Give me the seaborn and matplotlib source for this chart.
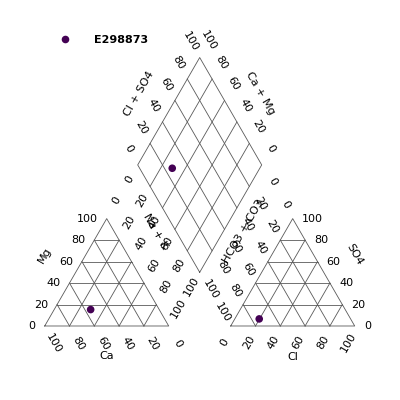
import numpy as np
import pandas as pd
import seaborn as sns
import matplotlib
matplotlib.use('Agg')
import matplotlib.pyplot as plt

# sample (meq %)
samples = ['E298873']
ca = [55.3]
mg = [15.3]
na_k = [29.4]
cl = [19.7]
so4 = [6.6]
hco3 = [73.7]

ticks = [0, 20, 40, 60, 80, 100]
tick_labels = ['0', '20', '40', '60', '80', '100']

offset = 0.5
h = np.sqrt(3) / 2
lc = '0.35'
lw = 0.6
fs = 8

# project the data onto the piper layout
cat_x = (np.array(na_k) + 0.5 * np.array(mg)) / 100
cat_y = h * np.array(mg) / 100
an_x = 1 + offset + (np.array(cl) + 0.5 * np.array(so4)) / 100
an_y = h * np.array(so4) / 100
t = (an_x - cat_x) + (an_y - cat_y) / (2 * h)
dia_x = cat_x + 0.5 * t
dia_y = cat_y + h * t

df = pd.DataFrame({
    'x': np.concatenate([cat_x, an_x, dia_x]),
    'y': np.concatenate([cat_y, an_y, dia_y]),
    'Sample': samples * 3,
})

fig = plt.figure(figsize=(4, 4), dpi=100)
ax = fig.add_axes([0, 0, 1, 1])
ax.set_xlim(-0.3605, 2.8653)
ax.set_ylim(-0.5968, 2.629)
ax.axis('off')

# triangles
for x0 in [0, 1 + offset]:
    ax.plot([x0, x0 + 1, x0 + 0.5, x0], [0, 0, h, 0], color=lc, lw=lw)
    for f in [0.2, 0.4, 0.6, 0.8]:
        ax.plot([x0 + 0.5 * f, x0 + 1 - 0.5 * f], [h * f, h * f], color=lc, lw=lw)
        ax.plot([x0 + 1 - f, x0 + 0.5 * (1 - f)], [0, h * (1 - f)], color=lc, lw=lw)
        ax.plot([x0 + f, x0 + f + 0.5 * (1 - f)], [0, h * (1 - f)], color=lc, lw=lw)

# diamond
B = np.array([1 + offset / 2, offset * h])
u = np.array([-0.5, h])
w = np.array([0.5, h])
L, R, T = B + u, B + w, B + u + w
ax.plot([B[0], L[0], T[0], R[0], B[0]], [B[1], L[1], T[1], R[1], B[1]], color=lc, lw=lw)
for f in [0.2, 0.4, 0.6, 0.8]:
    p0, p1 = B + f * u, B + f * u + w
    ax.plot([p0[0], p1[0]], [p0[1], p1[1]], color=lc, lw=lw)
    p0, p1 = B + f * w, B + f * w + u
    ax.plot([p0[0], p1[0]], [p0[1], p1[1]], color=lc, lw=lw)

# tick labels
for v, lab in zip(ticks, tick_labels):
    f = v / 100
    # left triangle
    ax.text(0.5 * f - 0.073, h * f, lab, ha='right', va='center', fontsize=fs)
    ax.text(1 - f + 0.069, -0.145, lab, ha='center', va='center', rotation=-60, fontsize=fs)
    ax.text(0.5 + 0.5 * f + 0.081, h * (1 - f) + 0.145, lab, ha='center', va='center',
            rotation=60, fontsize=fs)
    # right triangle
    ax.text(1 + offset + f - 0.054, -0.129, lab, ha='center', va='center', rotation=60, fontsize=fs)
    ax.text(2 + offset - 0.5 * f + 0.073, h * f, lab, ha='left', va='center', fontsize=fs)
    ax.text(1.5 + offset - 0.5 * f - 0.061, h * (1 - f) + 0.111, lab, ha='center', va='center',
            rotation=-60, fontsize=fs)
    # diamond
    p = L + f * w
    ax.text(p[0] - 0.073, p[1] + 0.130, lab, ha='center', va='center', rotation=-60, fontsize=fs)
    p = R + f * u
    ax.text(p[0] + 0.073, p[1] + 0.135, lab, ha='center', va='center', rotation=-60, fontsize=fs)
    p = B + (1 - f) * w
    ax.text(p[0] + 0.088, p[1] - 0.137, lab, ha='center', va='center', rotation=-60, fontsize=fs)
    p = B + (1 - f) * u
    ax.text(p[0] - 0.065, p[1] - 0.114, lab, ha='center', va='center', rotation=60, fontsize=fs)

# axis titles
ax.text(0.0, 0.573, 'Mg', ha='center', va='center', rotation=60, fontsize=fs)
ax.text(0.5, -0.242, 'Ca', ha='center', va='center', fontsize=fs)
ax.text(2.0, -0.247, 'Cl', ha='center', va='center', fontsize=fs)
ax.text(2.5, 0.573, 'SO4', ha='center', va='center', rotation=-60, fontsize=fs)
ax.text(0.760, 1.877, 'Cl + SO4', ha='center', va='center', rotation=60, fontsize=fs)
ax.text(1.740, 1.877, 'Ca + Mg', ha='center', va='center', rotation=-60, fontsize=fs)
ax.text(0.896, 0.766, 'Na + K', ha='center', va='center', rotation=-60, fontsize=fs)
ax.text(1.604, 0.766, 'HCO3 + CO3', ha='center', va='center', rotation=60, fontsize=fs)

# data points
sns.scatterplot(data=df, x='x', y='y', hue='Sample', palette=['#440154'], s=30,
                linewidth=0, ax=ax, zorder=5)

handles, labels = ax.get_legend_handles_labels()
ax.legend(handles, labels, loc='center left', bbox_to_anchor=(0.135, 0.9),
          frameon=False, prop={'weight': 'bold', 'size': fs}, borderaxespad=0,
          borderpad=0, handlelength=2, handletextpad=1.6)

plt.savefig('out.png', dpi=100)
